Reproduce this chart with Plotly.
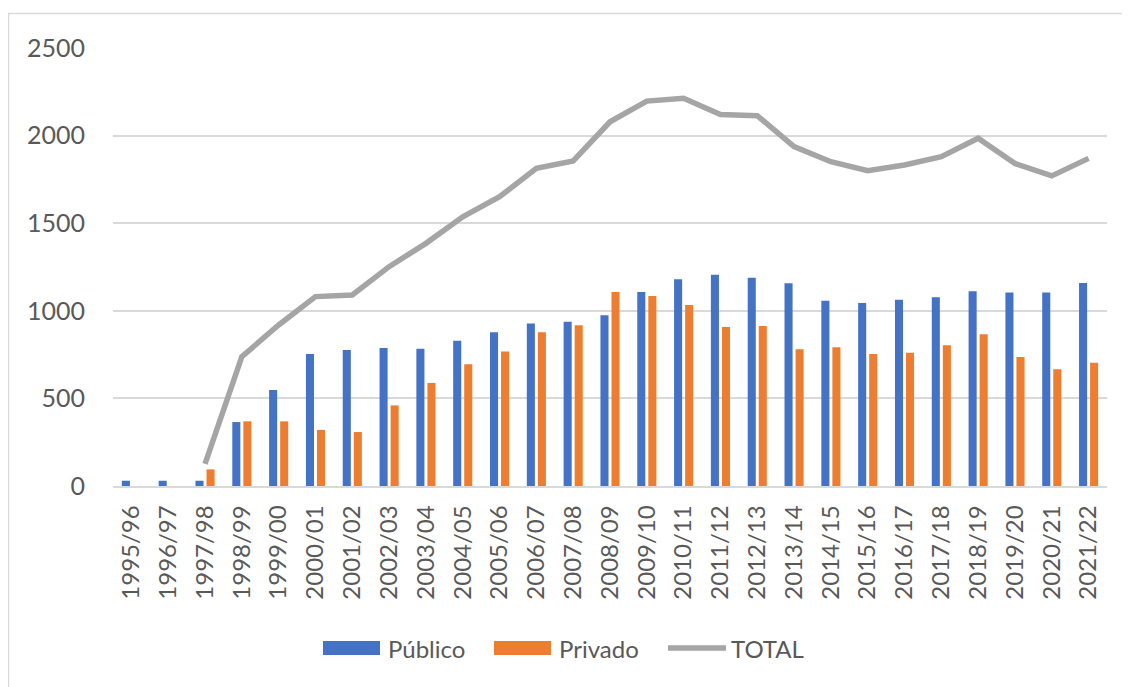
import plotly.graph_objects as go

categories = ["1995/96", "1996/97", "1997/98", "1998/99", "1999/00", "2000/01", "2001/02",
              "2002/03", "2003/04", "2004/05", "2005/06", "2006/07", "2007/08", "2008/09",
              "2009/10", "2010/11", "2011/12", "2012/13", "2013/14", "2014/15", "2015/16",
              "2016/17", "2017/18", "2018/19", "2019/20", "2020/21", "2021/22"]

publico = [30, 30, 30, 365, 548, 753, 776, 788, 784, 829, 877, 927, 938, 974,
           1107, 1180, 1206, 1189, 1157, 1058, 1044, 1063, 1077, 1111, 1105, 1105, 1159]

privado = [0, 0, 95, 369, 369, 320, 308, 460, 588, 695, 767, 877, 917, 1107,
           1084, 1033, 908, 913, 780, 792, 753, 761, 803, 866, 736, 666, 704]

total = [None, None, 126, 738, 919, 1081, 1090, 1252, 1385, 1537, 1651, 1813, 1855, 2079,
         2197, 2213, 2121, 2114, 1937, 1851, 1800, 1832, 1880, 1985, 1841, 1770, 1870]

y_ticks = [0, 500, 1000, 1500, 2000, 2500]

BLUE = "#4472C4"
ORANGE = "#ED7D31"
GREY = "#A5A5A5"
TEXT = "#595959"
GRID = "#D9D9D9"
FONT = "Lato, Carlito, 'Open Sans', sans-serif"

OFF = 8  # page body margin
W, H = 1130 - OFF, 687 - OFF
# plot area in screen pixels: x 113..1107, y 48..486
ML = 113 - OFF
MT = 48 - OFF
MR = 1130 - 1107
MB = 687 - 486
PW = W - ML - MR
PH = H - MT - MB


def px(x):
    return (x - OFF - ML) / PW


def py(y):
    return (H - MB - (y - OFF)) / PH


fig = go.Figure()
fig.add_trace(go.Bar(x=categories, y=publico, name="Público", marker_color=BLUE,
                     marker_line_width=0, showlegend=False))
fig.add_trace(go.Bar(x=categories, y=privado, name="Privado", marker_color=ORANGE,
                     marker_line_width=0, showlegend=False))
fig.add_trace(go.Scatter(x=categories, y=total, name="TOTAL", mode="lines",
                         line=dict(color=GREY, width=5.5), showlegend=False))

# Outer chart border (only top and left visible in reference)
fig.add_shape(type="rect", xref="paper", yref="paper",
              x0=px(8.5), x1=px(1200), y0=py(720), y1=py(13.5),
              line=dict(color=GRID, width=1.5), fillcolor="rgba(0,0,0,0)", layer="below")

# Custom legend
leg_y = py(648)
fig.add_shape(type="rect", xref="paper", yref="paper", x0=px(323), x1=px(380),
              y0=py(655), y1=py(641), fillcolor=BLUE, line_width=0)
fig.add_shape(type="rect", xref="paper", yref="paper", x0=px(494), x1=px(551),
              y0=py(655), y1=py(641), fillcolor=ORANGE, line_width=0)
fig.add_shape(type="line", xref="paper", yref="paper", x0=px(668), x1=px(726),
              y0=leg_y, y1=leg_y, line=dict(color=GREY, width=5.5))
for label, x in [("Público", 386), ("Privado", 557), ("TOTAL", 729)]:
    fig.add_annotation(text=label, xref="paper", yref="paper", x=px(x), y=leg_y,
                       xanchor="left", yanchor="middle", showarrow=False,
                       font=dict(family=FONT, size=24, color=TEXT))

fig.update_layout(
    width=W, height=H,
    margin=dict(l=ML, r=MR, t=MT, b=MB),
    paper_bgcolor="white", plot_bgcolor="white",
    barmode="group", bargap=0.40, bargroupgap=0.27,
    font=dict(family=FONT, size=24, color=TEXT),
    showlegend=False,
)
fig.update_xaxes(type="category", tickangle=-90, showgrid=False, showline=True,
                 linecolor=GRID, linewidth=1.5, ticks="", ticklabelstandoff=8,
                 tickfont=dict(family=FONT, size=24, color=TEXT))
fig.update_yaxes(range=[0, 2500], tickvals=y_ticks, showgrid=True, gridcolor=GRID,
                 gridwidth=1.5, zeroline=False, showline=False, ticks="",
                 ticklabelstandoff=27,
                 tickfont=dict(family=FONT, size=25, color=TEXT))

fig.write_html("out.html")
